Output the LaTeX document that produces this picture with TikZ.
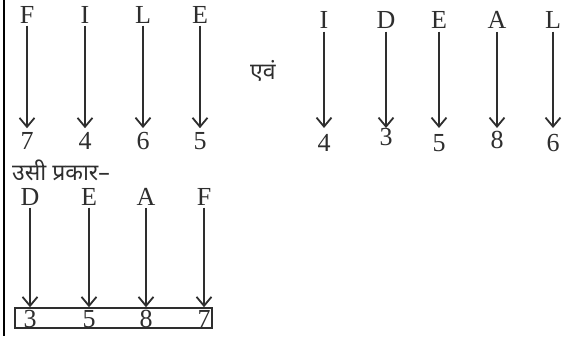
\documentclass[tikz,border=0pt]{standalone}
\usepackage{fontspec}
\setmainfont{Liberation Serif}
\newfontfamily\hindifont[Script=Devanagari]{Noto Sans}
\usetikzlibrary{arrows.meta}
\definecolor{ink}{HTML}{2E2E2E}
\tikzset{
  lett/.style={inner sep=0pt, text=ink, font=\fontsize{26}{28}\selectfont},
  hin/.style={inner sep=0pt, text=ink, font=\hindifont\fontsize{23}{26}\selectfont},
  arr/.style={draw=ink, line width=1.8pt, -{Straight Barb[length=9pt,width=15pt,line width=1.8pt]}},
}
\begin{document}
\begin{tikzpicture}[x=1pt,y=-1pt]
\useasboundingbox (0,0) rectangle (565,337);
\draw[line width=2pt, draw=black] (4,0) coordinate (lt) -- (4,336) coordinate (lb);
% top-left group
\foreach \n/\l/\d/\x in {a/F/7/27, b/I/4/85, c/L/6/143, d/E/5/200}{
  \node[lett] (t\n) at (\x,15) {\l};
  \node[lett] (u\n) at (\x,141) {\d};
  \draw[arr, shorten <=2pt, shorten >=4pt] (t\n.south) -- (u\n.north);
}
\node[hin] (evam) at (263,71) {एवं};
% top-right group
\foreach \n/\l/\d/\x/\y in {a/I/4/324/143, b/D/3/386/137, c/E/5/439/143, d/A/8/497/140, e/L/6/553/143}{
  \node[lett] (r\n) at (\x,20) {\l};
  \node[lett] (s\n) at (\x,\y) {\d};
  \coordinate (e\n) at (\x,128);
  \draw[arr, shorten <=3pt] (r\n.south) -- (e\n);
}
\node[hin, anchor=west] (usi) at (12,170) {उसी प्रकार–};
% bottom group
\node[draw=ink, line width=1.5pt, minimum width=197pt, minimum height=20pt, inner sep=0pt] (box) at (113.5,318) {};
\foreach \n/\l/\d/\x in {a/D/3/30, b/E/5/89, c/A/8/146, d/F/7/204}{
  \node[lett] (p\n) at (\x,197) {\l};
  \node[lett, anchor=base] (q\n) at (\x,327) {\d};
  \draw[arr, shorten <=2pt] (p\n.south) -- (p\n.south |- box.north);
}
\end{tikzpicture}
\end{document}
